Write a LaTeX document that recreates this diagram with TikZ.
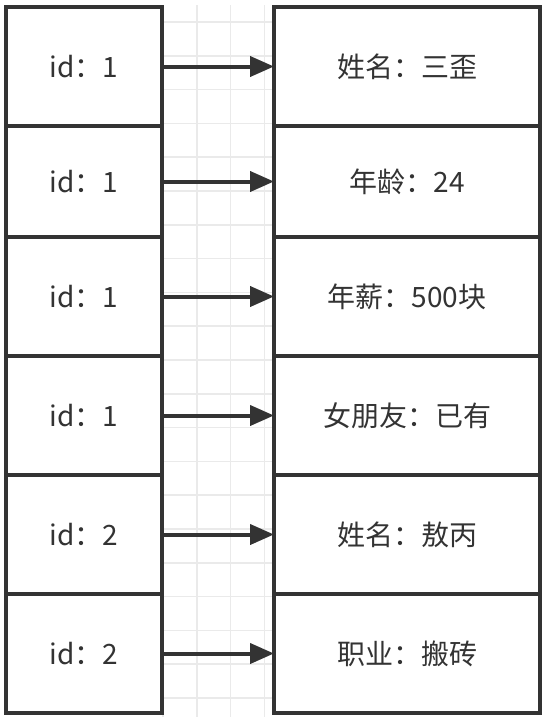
\documentclass[tikz,border=0pt]{standalone}
\usepackage{fontspec}
\newfontfamily\cjk{Noto Sans CJK SC}
\usepackage{xcolor}
\usetikzlibrary{arrows.meta, positioning}
\definecolor{ink}{HTML}{333333}
\definecolor{gridline}{HTML}{EAEAEA}

\begin{document}
\begin{tikzpicture}[
    x=0.75pt, y=-0.75pt,
    node distance=0pt,
    cell/.style={draw=ink, line width=2.8pt, outer sep=0pt, inner sep=0pt, fill=white, text=ink, font=\cjk\fontsize{21}{25}\selectfont},
    idcell/.style={cell, minimum width=117pt},
    attrcell/.style={cell, minimum width=199.5pt},
    tallrow/.style={minimum height=89.25pt},
    lowrow/.style={minimum height=83.25pt},
    link/.style={ink, line width=3pt, -{Triangle[length=18pt, width=15pt]}},
]
\useasboundingbox (0,0) rectangle (544,721);

% Faint grid behind the two columns
\foreach \k in {0,...,3}
    \draw[gridline, line width=1.1pt] (163+33.8*\k,5) -- (163+33.8*\k,717);
\foreach \k in {0,...,20}
    \draw[gridline, line width=1.1pt] (150,22+33.8*\k) -- (280,22+33.8*\k);

% Left column: ids
\node[idcell, tallrow, anchor=north west] (id1) at (6,7) {id：1};
\node[idcell, lowrow, below=of id1] (id2) {id：1};
\node[idcell, tallrow, below=of id2] (id3) {id：1};
\node[idcell, tallrow, below=of id3] (id4) {id：1};
\node[idcell, tallrow, below=of id4] (id5) {id：2};
\node[idcell, tallrow, below=of id5] (id6) {id：2};

% Right column: attributes
\node[attrcell, tallrow, right=84pt of id1] (attr1) {姓名：三歪};
\node[attrcell, lowrow, right=84pt of id2] (attr2) {年龄：24};
\node[attrcell, tallrow, right=84pt of id3] (attr3) {年薪：500块};
\node[attrcell, tallrow, right=84pt of id4] (attr4) {女朋友：已有};
\node[attrcell, tallrow, right=84pt of id5] (attr5) {姓名：敖丙};
\node[attrcell, tallrow, right=84pt of id6] (attr6) {职业：搬砖};

% Mapping arrows
\draw[link] (id1) -- (attr1);
\draw[link] (id2) -- (attr2);
\draw[link] (id3) -- (attr3);
\draw[link] (id4) -- (attr4);
\draw[link] (id5) -- (attr5);
\draw[link] (id6) -- (attr6);

\end{tikzpicture}
\end{document}
